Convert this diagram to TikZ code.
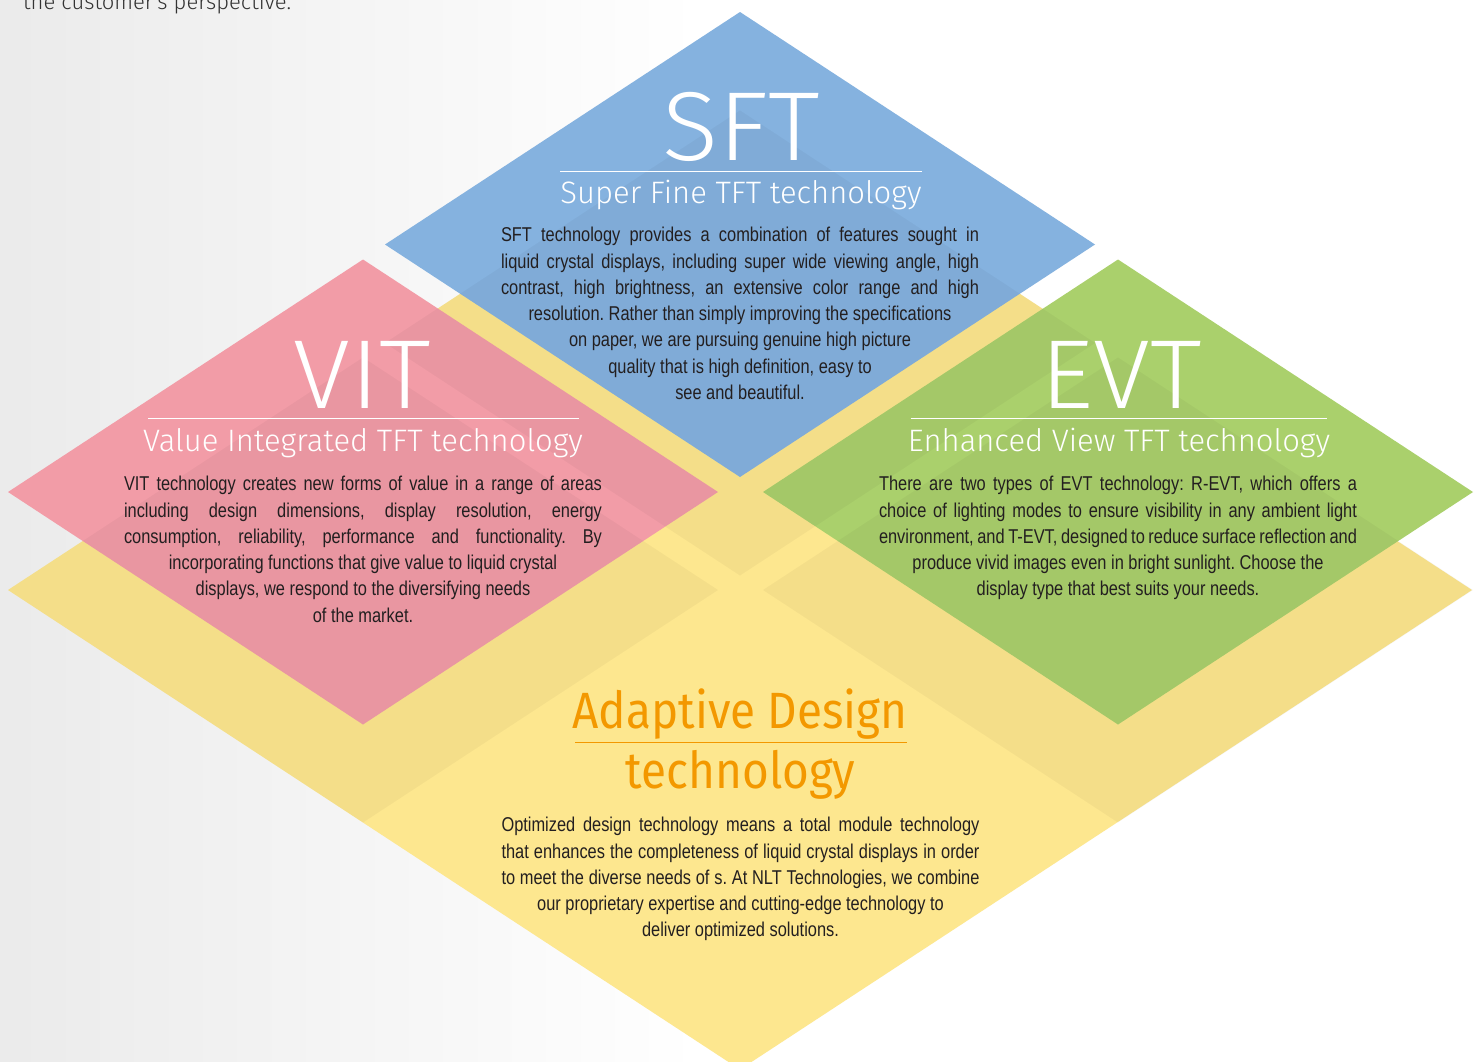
\documentclass[tikz,border=0pt]{standalone}
\usepackage{fontspec}
\newfontfamily\thinfont{Fira Sans Light}
\newfontfamily\titlefont{Fira Sans Light}[FakeStretch=1.06]
\newfontfamily\dinfont{Fira Sans}[FakeStretch=0.9]
\newfontfamily\bodyfont{Liberation Sans}[FakeStretch=0.82]
\definecolor{sftblue}{RGB}{133,178,223}
\definecolor{vitpink}{RGB}{242,156,167}
\definecolor{evtgreen}{RGB}{170,208,108}
\definecolor{adyellow}{RGB}{253,231,143}
\definecolor{adorange}{RGB}{243,152,0}
\definecolor{bodyink}{RGB}{35,31,32}
\def\rhomb[#1](#2,#3){\fill[#1] (#2-355,#3) -- (#2,#3-232.5) -- (#2+355,#3) -- (#2,#3+232.5) -- cycle;}
\def\jline#1{\makebox[478pt][s]{#1}}

\begin{document}
\begin{tikzpicture}[x=1pt,y=-1pt,
	title/.style={font=\titlefont\fontsize{98}{98}\selectfont, text=white, inner sep=0pt, anchor=base},
	subtitle/.style={font=\thinfont\fontsize{31}{31}\selectfont, text=white, inner sep=0pt, anchor=base},
	adtitle/.style={font=\dinfont\fontsize{51}{51}\selectfont, text=adorange, inner sep=0pt, anchor=base},
	blurb/.style={font=\bodyfont\fontsize{20}{26.3}\selectfont\frenchspacing, text=bodyink, inner sep=0pt, anchor=base, align=center},
	rule/.style={line width=1pt}]
		%%%%% START %%%%%
		\useasboundingbox (0,0) rectangle (1481,1061);
		\fill[white] (0,0) rectangle (1481,1061);
		\shade[left color=black!8, right color=white] (0,0) rectangle (700,1061);
		
		\node[font=\thinfont\fontsize{22}{22}\selectfont, text=black!80, inner sep=0pt, anchor=base west] (intro) at (23,9) {the customer's perspective.};
		
		% yellow base and the four panels
		\fill[adyellow] (8,590) -- (740,110.5) -- (1472,590) -- (740,1069.5) -- cycle;
		\rhomb[vitpink](363,492)
		\rhomb[sftblue](740,244.5)
		\rhomb[evtgreen](1118,492)
		\rhomb[black,opacity=0.035](363,590)
		\rhomb[black,opacity=0.035](740,343)
		\rhomb[black,opacity=0.035](1118,590)
		
		% SFT (blurb sits on its last line)
		\node[title] (sft) at (741,160) {SFT};
		\draw[rule, white] (560,171) -- (922,171);
		\node[subtitle] (sftsub) at (741,203) {Super Fine TFT technology};
		\node[blurb] (sfttext) at (740,399.5) {\jline{SFT technology provides a combination of features sought in}\\
			\jline{liquid crystal displays, including super wide viewing angle, high}\\
			\jline{contrast, high brightness, an extensive color range and high}\\
			resolution. Rather than simply improving the specifications\\
			on paper, we are pursuing genuine high picture\\
			quality that is high definition, easy to\\
			see and beautiful.};
		
		% VIT
		\node[title] (vit) at (362.5,408) {VIT};
		\draw[rule, white] (148,418.7) -- (579,418.7);
		\node[subtitle] (vitsub) at (363,451.5) {Value Integrated TFT technology};
		\node[blurb] (vittext) at (363,622.2) {\jline{VIT technology creates new forms of value in a range of areas}\\
			\jline{including design dimensions, display resolution, energy}\\
			\jline{consumption, reliability, performance and functionality. By}\\
			incorporating functions that give value to liquid crystal\\
			displays, we respond to the diversifying needs\\
			of the market.};
		
		% EVT
		\node[title] (evt) at (1121,408) {EVT};
		\draw[rule, white] (910.7,418.7) -- (1326.7,418.7);
		\node[subtitle] (evtsub) at (1119,451.7) {Enhanced View TFT technology};
		\node[blurb] (evttext) at (1118,595.9) {\jline{There are two types of EVT technology: R-EVT, which offers a}\\
			\jline{choice of lighting modes to ensure visibility in any ambient light}\\
			\jline{environment, and T-EVT, designed to reduce surface reflection and}\\
			produce vivid images even in bright sunlight. Choose the\\
			display type that best suits your needs.};
		
		% Adaptive Design
		\node[adtitle] (ad) at (740,728) {Adaptive Design};
		\draw[rule, adorange] (575,742.7) -- (907,742.7);
		\node[adtitle] (adsub) at (740.5,788) {technology};
		\node[blurb] (adtext) at (740.5,936.9) {\jline{Optimized design technology means a total module technology}\\
			\jline{that enhances the completeness of liquid crystal displays in order}\\
			\jline{to meet the diverse needs of s. At NLT Technologies, we combine}\\
			our proprietary expertise and cutting-edge technology to\\
			deliver optimized solutions.};
		%%%%% END %%%%%
\end{tikzpicture}
\end{document}
